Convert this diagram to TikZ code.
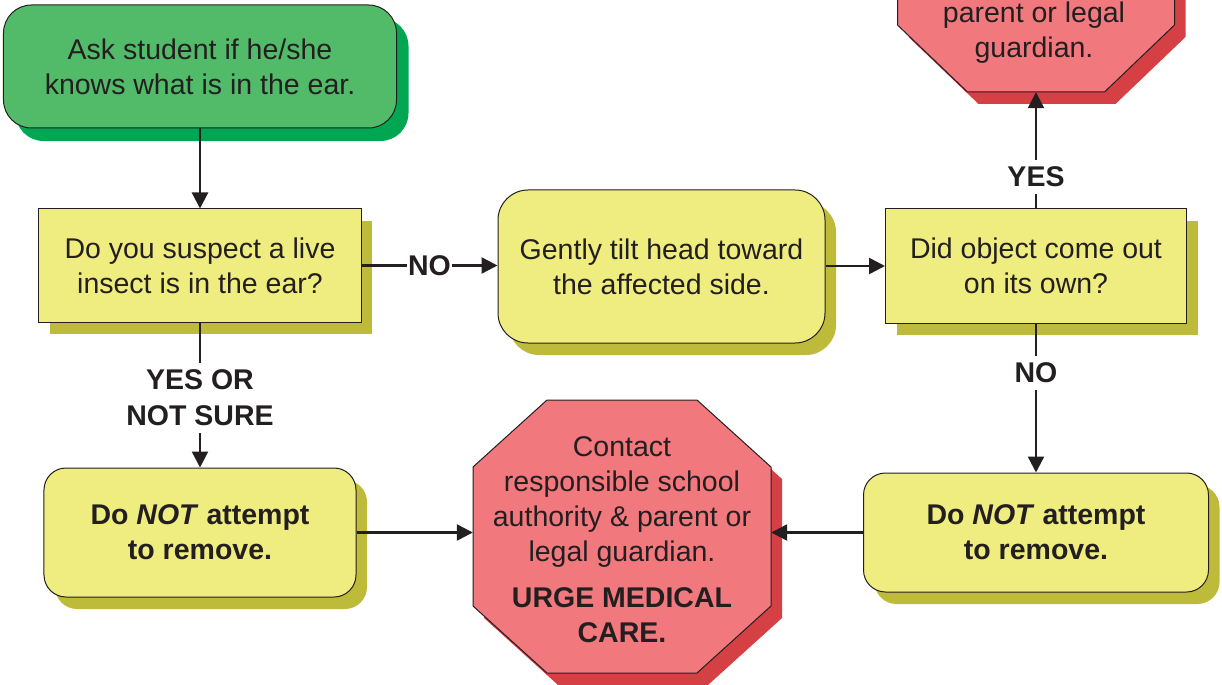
\documentclass[tikz,border=0pt]{standalone}
\usepackage{fontspec}
\setmainfont{Liberation Sans}
\usetikzlibrary{arrows.meta,shadows}
\definecolor{gfill}{HTML}{52BB69}
\definecolor{gshad}{HTML}{00A651}
\definecolor{yfill}{HTML}{F0ED80}
\definecolor{yshad}{HTML}{BFBB3A}
\definecolor{rfill}{HTML}{F1797E}
\definecolor{rshad}{HTML}{D44044}
\definecolor{ink}{HTML}{231F20}
\begin{document}
\begin{tikzpicture}[x=1bp,y=-1bp,
  every node/.style={font=\fontsize{28.5bp}{35bp}\selectfont, text=ink},
  box/.style={draw=ink, line width=1bp, align=center, inner sep=0pt},
  ybox/.style={box, fill=yfill, general shadow={fill=yshad, shadow xshift=11bp, shadow yshift=-12bp}},
  octshape/.style={fill=rfill, draw=ink, line width=1bp, general shadow={fill=rshad, shadow xshift=11bp, shadow yshift=-12bp}},
  frame/.style={inner sep=0pt, align=center},
  lbl/.style={font=\fontsize{28.5bp}{36bp}\selectfont\bfseries, fill=white, inner xsep=1bp, inner ysep=7bp, align=center},
  arr/.style={draw=ink, line width=2.4bp, -{Triangle[length=16bp,width=16bp]}},
  ln/.style={draw=ink, line width=2.4bp}]
\useasboundingbox (0,0) rectangle (1222,685);
\clip (0,0) rectangle (1222,685);

% octagons
\path[octshape] (547,400) -- (697,400) -- (771,467) -- (771,606) -- (697,673) -- (547,673) -- (473,606) -- (473,467) -- cycle;
\path[octshape] (967.5,-181) -- (1104.5,-181) -- (1174.5,-114) -- (1174.5,25) -- (1104.5,92) -- (967.5,92) -- (897.5,25) -- (897.5,-114) -- cycle;

\node[frame, minimum width=298bp, minimum height=273bp] (o1) at (622,536.5) {};
\node[frame] (t1) at (622,539.5) {Contact\\responsible school\\authority \& parent or\\legal guardian.\\[11bp]\textbf{URGE MEDICAL}\\\textbf{CARE.}};
\node[frame, minimum width=277bp, minimum height=273bp] (o2) at (1036,-44.5) {};
\node[frame] (t2) at (1034,33) {parent or legal\\guardian.};

% boxes
\node[box, fill=gfill, rounded corners=28bp, general shadow={fill=gshad, shadow xshift=12bp, shadow yshift=-13bp}, minimum width=393bp, minimum height=123bp] (ask) at (200,66.5) {Ask student if he/she\\knows what is in the ear.};
\node[ybox, minimum width=322bp, minimum height=113bp] (q1) at (200,265.5) {Do you suspect a live\\insect is in the ear?};
\node[ybox, rounded corners=30bp, minimum width=327bp, minimum height=153bp] (tilt) at (661.5,266.5) {Gently tilt head toward\\the affected side.};
\node[ybox, minimum width=301bp, minimum height=114bp] (q2) at (1036,266) {Did object come out\\on its own?};
\node[ybox, rounded corners=22bp, minimum width=312bp, minimum height=129bp] (dl) at (200,532.5) {\textbf{Do \textit{NOT} attempt}\\\textbf{to remove.}};
\node[ybox, rounded corners=22bp, minimum width=345bp, minimum height=119bp] (dr) at (1036,532.5) {\textbf{Do \textit{NOT} attempt}\\\textbf{to remove.}};

% connectors
\draw[arr] (ask.south) -- (q1.north);
\draw[arr] (q1.east) -- node[lbl] {NO} (tilt.west |- q1.east);
\draw[arr] (tilt.east |- q2.west) -- (q2.west);
\draw[arr] (q2.north) -- node[lbl, pos=0.27] {YES} (o2.south);
\draw[arr] (q1.south) -- node[lbl, pos=0.52] {YES OR\\NOT SURE} (dl.north);
\draw[arr] (q2.south) -- node[lbl, pos=0.33] {NO} (dr.north);
\draw[arr] (dl.east) -- (o1.west |- dl.east);
\draw[arr] (dr.west) -- (o1.east |- dr.west);
\end{tikzpicture}
\end{document}
